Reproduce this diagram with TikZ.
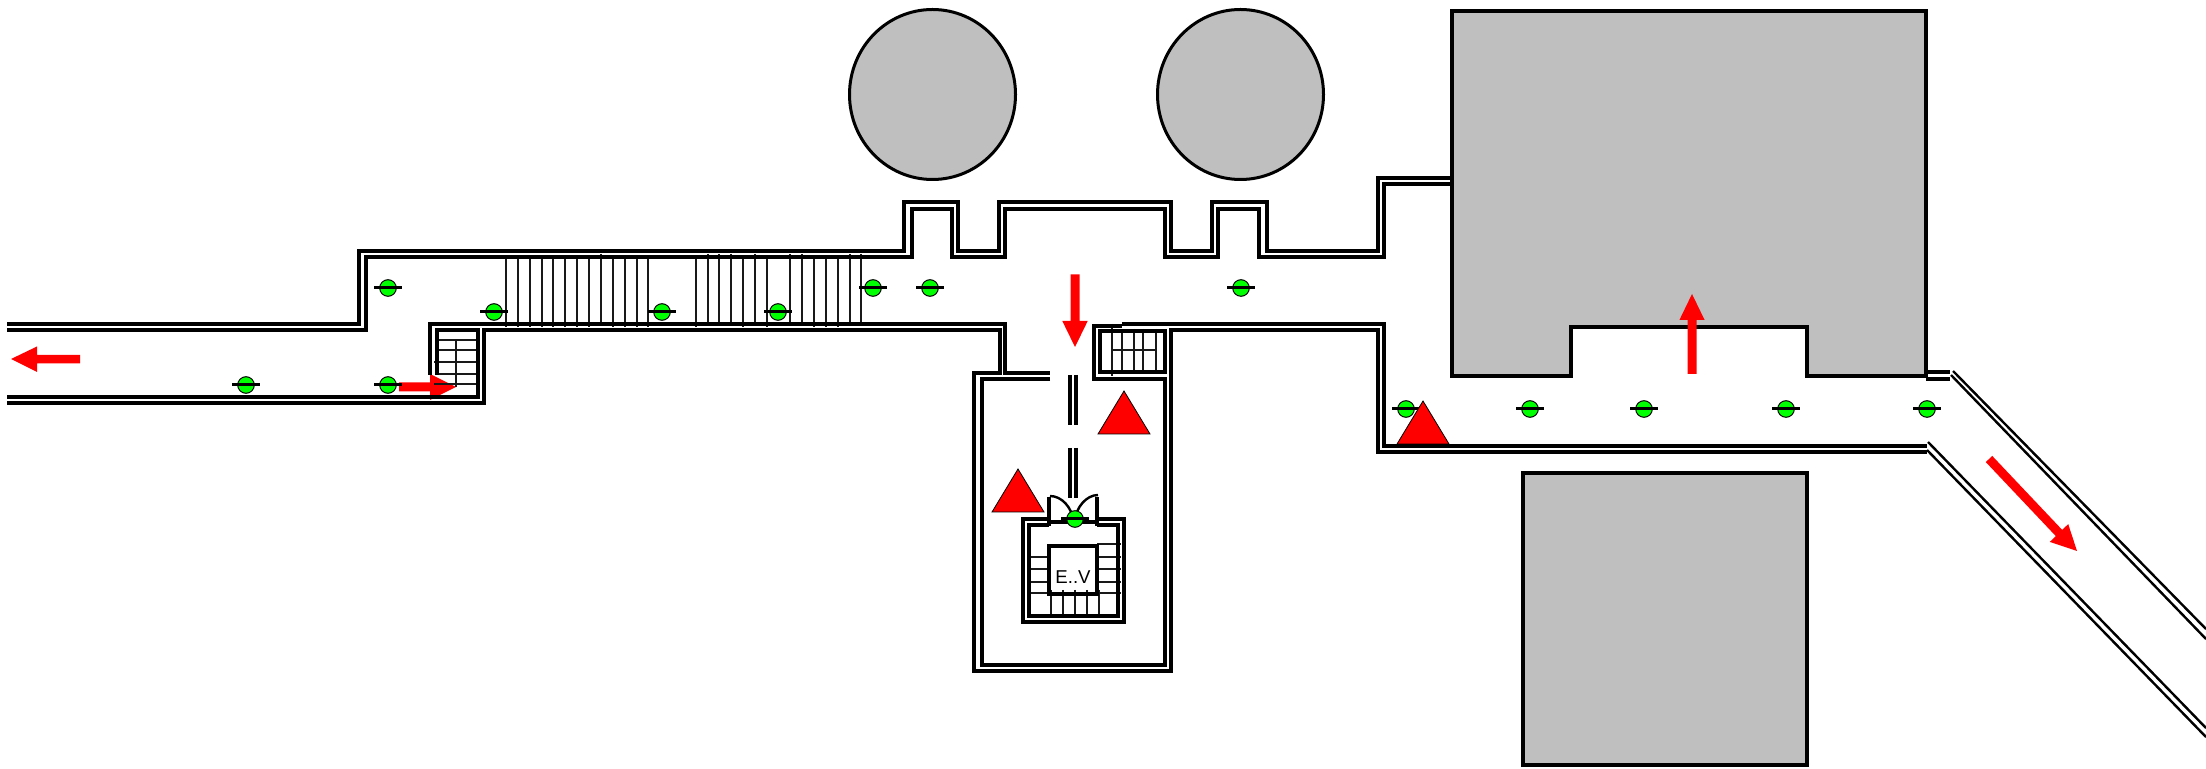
\documentclass[tikz,border=0pt]{standalone}
\usepackage{fontspec}
\setmainfont{Liberation Sans}
\tikzset{
  wall/.style={draw=black,line width=2.15pt,line join=miter},
  thinwall/.style={draw=black,line width=1.2pt},
  building/.style={draw=black,line width=1.9pt,fill=bldg},
  tank/.style={draw=black,line width=1.5pt,fill=bldg},
  stairline/.style={draw=black!90,line width=1pt},
  redarrow/.style={fill=red,draw=none},
  hazard/.style={fill=red,draw=black,line width=0.4pt,line join=miter},
  sensordisc/.style={fill=green,draw=black,line width=0.5pt},
  sensorbar/.style={draw=black,line width=1.5pt},
  doorarc/.style={draw=black,line width=1.2pt},
}
\definecolor{bldg}{HTML}{BFBFBF}
\newcommand{\sensorat}[2]{%
  \fill[sensordisc] (#1,#2) circle (4.15pt);
  \draw[sensorbar] (#1-14,#2) -- (#1+14,#2);}
\newcommand{\hazardat}[2]{\path[hazard] (#1,#2) -- (#1-26,#2+43) -- (#1+26,#2+43) -- cycle;}
\begin{document}
\begin{tikzpicture}[x=0.5pt,y=-0.5pt]
\useasboundingbox (0,0) rectangle (2206,769);
\clip (0,0) rectangle (2206,769);
% buildings
\path[tank] (932.5,94.5) ellipse [x radius=83,y radius=85];
\path[tank] (1240.5,94.5) ellipse [x radius=83,y radius=85];
\path[building] (1452,11) -- (1926,11) -- (1926,376) -- (1807,376) -- (1807,327) -- (1571,327) -- (1571,376) -- (1452,376) -- cycle;
\path[building] (1523,473) -- (1807,473) -- (1807,765) -- (1523,765) -- cycle;
% arrows under stairs
\path[redarrow] (80,355) -- (37,355) -- (37,346.5) -- (11,359) -- (37,372) -- (37,363.5) -- (80,363.5) -- cycle;
\path[redarrow] (399,382.5) -- (430,382.5) -- (430,374) -- (456,387) -- (430,400) -- (430,391.5) -- (399,391.5) -- cycle;
% long stairs
\foreach \i in {0,...,12} \draw[stairline] ({506+11.87*\i},256) -- ({506+11.87*\i},325);
\foreach \i in {0,...,6,8,9,...,14} \draw[stairline] ({695.7+11.83*\i},256) -- ({695.7+11.83*\i},325);
\foreach \i in {8} \draw[stairline] ({506+11.87*\i},254) -- ({506+11.87*\i},256);
\foreach \i in {1,2,3,5,8,9,13,14} \draw[stairline] ({695.7+11.83*\i},254) -- ({695.7+11.83*\i},256);
\foreach \i in {0,...,7,9,10,11,12} \draw[stairline] ({506+11.87*\i},325) -- ({506+11.87*\i},327);
\foreach \i in {0,4,6,10,11,12} \draw[stairline] ({695.7+11.83*\i},325) -- ({695.7+11.83*\i},327);
% left small stairs
\foreach \yy/\xa in {340/439,350/439,362/434,374/437,384/434} \draw[stairline] (\xa,\yy) -- (478,\yy);
\draw[stairline] (456,340) -- (456,387);
% right small stairs
\draw[stairline] (1112,324) -- (1112,376);
\foreach \xx in {1122,1134,1143,1156} \draw[stairline] (\xx,329) -- (\xx,372);
\draw[stairline] (1112,350) -- (1156,350);
% lift stairs
\foreach \yy in {557,569,582,593} \draw[stairline] (1027,\yy) -- (1049,\yy);
\foreach \yy in {544,557,569,582,593} \draw[stairline] (1097,\yy) -- (1121,\yy);
\foreach \xx in {1051,1063,1075,1087,1099} \draw[stairline] (\xx,590) -- (\xx,616);
% corridor walls
\draw[wall] (7,324) -- (359,324) -- (359,251) -- (904,251) -- (904,202) -- (958,202) -- (958,251) -- (999,251) -- (999,202) -- (1171,202) -- (1171,251) -- (1212,251) -- (1212,202) -- (1267,202) -- (1267,251) -- (1378,251) -- (1378,178) -- (1452,178);
\draw[wall] (7,330) -- (366,330) -- (366,257) -- (912,257) -- (912,209) -- (952,209) -- (952,257) -- (1005,257) -- (1005,209) -- (1165,209) -- (1165,257) -- (1218,257) -- (1218,209) -- (1259,209) -- (1259,257) -- (1384,257) -- (1384,184) -- (1452,184);
\draw[wall] (7,397) -- (478,397) -- (478,330) -- (437,330) -- (437,375);
\draw[wall] (7,403) -- (484,403) -- (484,330) -- (1000,330) -- (1000,373) -- (974,373) -- (974,671) -- (1171,671) -- (1171,330) -- (1378,330) -- (1378,452) -- (1927,452);
\draw[wall] (430,375) -- (430,324) -- (1005,324) -- (1005,373) -- (1050,373);
\draw[wall] (1050,379) -- (982,379) -- (982,665) -- (1165,665) -- (1165,379) -- (1094,379) -- (1094,326) -- (1122,326);
\draw[wall] (1122,324) -- (1384,324) -- (1384,446) -- (1927,446);
\draw[wall] (1100,329) -- (1100,372) -- (1165,372) -- (1165,331) -- (1100,331);
% right stubs
\draw[wall] (1926,372) -- (1950,372);
\draw[wall] (1926,379) -- (1950,379);
% diagonal walls
\draw[thinwall] (1953,371) -- (2206,629);
\draw[thinwall] (1951,375) -- (2206,639);
\draw[thinwall] (1928,442) -- (2206,728);
\draw[thinwall] (1927,450) -- (2206,737);
% central passage
\draw[draw=black,line width=1.75pt] (1070,375) -- (1070,425) (1076,375) -- (1076,425) (1070,448) -- (1070,498) (1076,448) -- (1076,498);
% lift housing
\draw[wall] (1049,519) -- (1023,519) -- (1023,622) -- (1124,622) -- (1124,519) -- (1097,519);
\draw[wall] (1049,525) -- (1029,525) -- (1029,616) -- (1118,616) -- (1118,525) -- (1097,525);
\draw[wall] (1049,546) rectangle (1097,594);
\draw[wall] (1049,526) -- (1049,497);
\draw[wall] (1097,526) -- (1097,497);
\draw[wall] (1049,522) -- (1097,522);
\draw[doorarc] (1050,496) .. controls (1062,496) and (1072,508) .. (1073,520);
\draw[doorarc] (1098,495) .. controls (1086,495) and (1076,508) .. (1075,520);
\node[text=black,font=\fontsize{9.3pt}{10pt}\selectfont,inner sep=0pt] (ev) at (1073,577) {E..V};
% sensors
\sensorat{246}{385}\sensorat{388}{385}\sensorat{388}{288}\sensorat{494}{312}
\sensorat{662}{312}\sensorat{778}{312}\sensorat{873}{288}\sensorat{930}{288}
\sensorat{1241}{288}\sensorat{1075}{519}
\sensorat{1406}{409}\sensorat{1530}{409}\sensorat{1644}{409}\sensorat{1786}{409}\sensorat{1927}{409}
% hazards
\hazardat{1124}{391}\hazardat{1018}{469}\hazardat{1423}{401}
% top arrows
\path[redarrow] (1070.5,274.5) -- (1079.5,274.5) -- (1079.5,321) -- (1087.7,321) -- (1075,347) -- (1062.3,321) -- (1070.5,321) -- cycle;
\path[redarrow] (1687.5,374) -- (1696.5,374) -- (1696.5,320) -- (1704.6,320) -- (1692,294) -- (1679.4,320) -- (1687.5,320) -- cycle;
\path[redarrow] (1992.2,455.9) -- (2062.2,529.9) -- (2068.2,524.1) -- (2077,551) -- (2049.8,541.9) -- (2055.8,536.1) -- (1985.8,462.1) -- cycle;
\end{tikzpicture}
\end{document}
